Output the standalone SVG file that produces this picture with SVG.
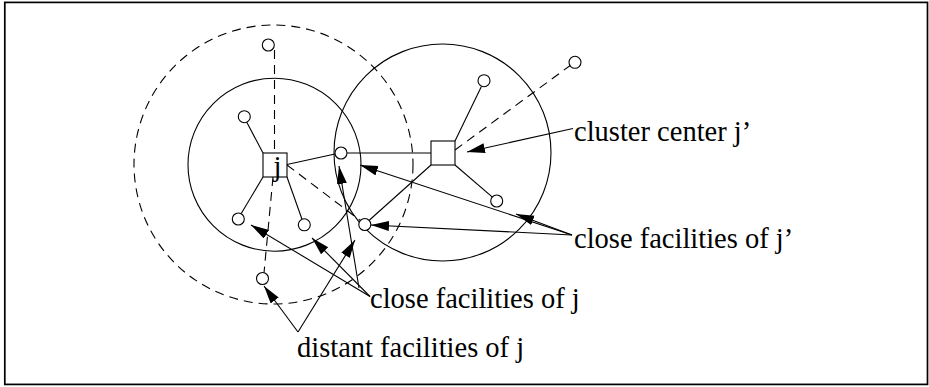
<svg xmlns="http://www.w3.org/2000/svg" width="929" height="387" viewBox="0 0 929 387">
<style>
.s{fill:none;stroke:#000;stroke-width:1.1}
.d{fill:none;stroke:#000;stroke-width:1.1;stroke-dasharray:9 6}
.f{fill:#fff;stroke:#000;stroke-width:1.1}
.a{fill:none;stroke:#000;stroke-width:1.1;marker-end:url(#ah)}
.t{font-family:"Liberation Serif","Times New Roman",serif;font-size:28.5px;fill:#000}
</style>
<defs>
<marker id="ah" markerUnits="userSpaceOnUse" markerWidth="19" markerHeight="11" refX="18" refY="5" orient="auto" viewBox="0 0 19 11">
<path d="M0,0 L18,5 L0,10 Z" fill="#000"/>
</marker>
</defs>
<rect x="4.8" y="2.4" width="922.7" height="382" fill="none" stroke="#000" stroke-width="1.7"/>
<g id="regions">
<circle class="d" cx="273.5" cy="164.5" r="139.5"/>
<circle class="s" cx="274.5" cy="164.7" r="86.5"/>
<circle class="s" cx="442.5" cy="152.5" r="108.5"/>
</g>
<g id="connectors">
<line class="s" x1="263" y1="153" x2="246.8" y2="122.3"/>
<line class="s" x1="263" y1="177" x2="241.1" y2="213.8"/>
<line class="s" x1="287" y1="177" x2="302" y2="219.3"/>
<line class="s" x1="287" y1="164.5" x2="335" y2="154"/>
<line class="s" x1="347" y1="153" x2="431" y2="153"/>
<line class="s" x1="455" y1="141" x2="481.4" y2="86.4"/>
<line class="s" x1="455" y1="165" x2="492.4" y2="197.1"/>
<line class="s" x1="431" y1="165" x2="369.5" y2="220"/>
<line class="d" x1="274.5" y1="50" x2="274.5" y2="153"/>
<line class="d" x1="273" y1="177" x2="264" y2="273"/>
<line class="d" x1="287" y1="165" x2="360.2" y2="220.4"/>
<line class="d" x1="455" y1="150" x2="570.2" y2="65.5"/>
<line class="a" x1="573" y1="128.5" x2="467" y2="152"/>
<line class="a" x1="572" y1="235" x2="360" y2="165"/>
<line class="a" x1="572" y1="235" x2="516" y2="214"/>
<line class="a" x1="572" y1="235" x2="371" y2="225"/>
<line class="a" x1="370" y1="296.5" x2="251" y2="225"/>
<line class="a" x1="370" y1="296.5" x2="312" y2="238"/>
<line class="a" x1="359" y1="288" x2="339" y2="166"/>
<line class="a" x1="298" y1="332" x2="264" y2="286"/>
<line class="a" x1="298" y1="332" x2="355" y2="240"/>
</g>
<g id="j">
<rect class="f" x="263" y="153" width="24" height="24"/>
<text class="t" x="273.5" y="175.5">j</text>
</g>
<g id="jprime">
<rect class="f" x="431" y="141" width="24" height="24"/>
</g>
<g id="facilities">
<circle id="f1" class="f" cx="268.3" cy="45" r="6"/>
<circle id="f2" class="f" cx="244.3" cy="116.7" r="6"/>
<circle id="f3" class="f" cx="341" cy="153" r="6"/>
<circle id="f4" class="f" cx="238.3" cy="219" r="6"/>
<circle id="f5" class="f" cx="304.3" cy="224.8" r="6"/>
<circle id="f6" class="f" cx="364.8" cy="224.5" r="6"/>
<circle id="f7" class="f" cx="262.5" cy="278.5" r="6"/>
<circle id="f8" class="f" cx="484" cy="80.7" r="6"/>
<circle id="f9" class="f" cx="575" cy="62.3" r="6"/>
<circle id="f10" class="f" cx="496.7" cy="201" r="6"/>
</g>
<g id="labels">
<text class="t" x="574" y="140.7">cluster center j’</text>
<text class="t" x="574" y="248.3">close facilities of j’</text>
<text class="t" x="370" y="308.3">close facilities of j</text>
<text class="t" x="297" y="357.3">distant facilities of j</text>
</g>
</svg>
